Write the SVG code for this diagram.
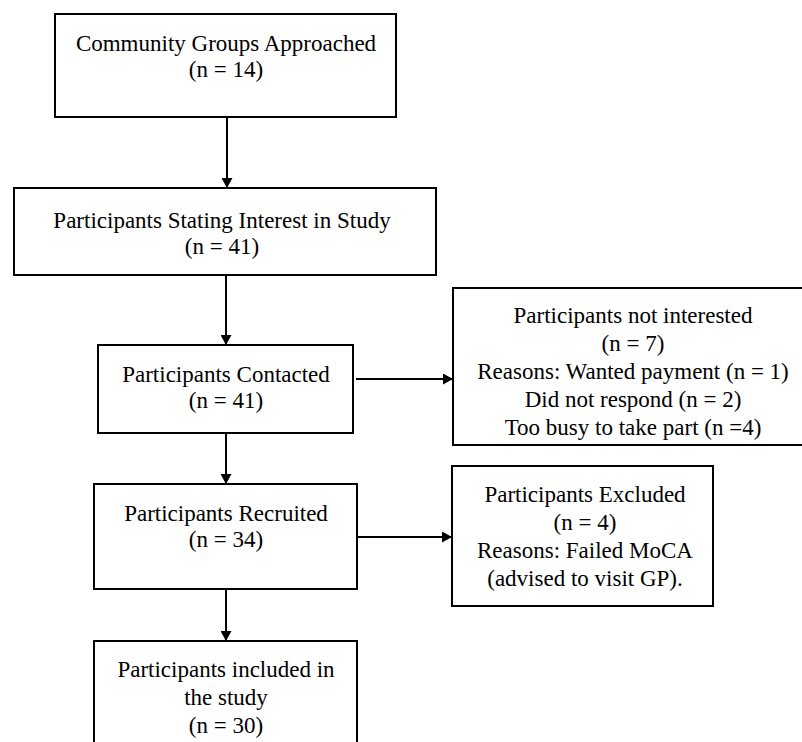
<svg xmlns="http://www.w3.org/2000/svg" width="802" height="742" viewBox="0 0 802 742">
<style>
.box{fill:#fff;stroke:#000;stroke-width:2}
.t{font-family:'Liberation Serif','Times New Roman',serif;font-size:23px;fill:#000;text-anchor:middle}
.c{stroke:#000;stroke-width:2;fill:none;marker-end:url(#ah)}
</style>
<defs>
<marker id="ah" viewBox="0 0 10 10" refX="10" refY="5" markerWidth="5" markerHeight="5.5" markerUnits="strokeWidth" orient="auto" preserveAspectRatio="none">
<path d="M0,0 L10,5 L0,10 z" fill="#000"/>
</marker>
</defs>
<rect width="802" height="742" fill="#fff"/>
<g id="connectors">
<line class="c" x1="227" y1="117" x2="227" y2="188"/>
<line class="c" x1="226" y1="275" x2="226" y2="345"/>
<line class="c" x1="356" y1="379" x2="453" y2="379"/>
<line class="c" x1="226" y1="433" x2="226" y2="484"/>
<line class="c" x1="357" y1="537" x2="452" y2="537"/>
<line class="c" x1="226" y1="589" x2="226" y2="641"/>
</g>
<g id="n1">
<rect class="box" x="55" y="14" width="341" height="103"/>
<text class="t" x="226" y="51">Community Groups Approached</text>
<text class="t" x="226" y="77">(n = 14)</text>
</g>
<g id="n2">
<rect class="box" x="14" y="188" width="422" height="87"/>
<text class="t" x="222" y="228">Participants Stating Interest in Study</text>
<text class="t" x="222" y="254">(n = 41)</text>
</g>
<g id="n3">
<rect class="box" x="98" y="345" width="255" height="88"/>
<text class="t" x="226" y="382">Participants Contacted</text>
<text class="t" x="226" y="408">(n = 41)</text>
</g>
<g id="n4">
<rect class="box" x="453" y="288" width="360" height="157"/>
<text class="t" x="633" y="323">Participants not interested</text>
<text class="t" x="633" y="351">(n = 7)</text>
<text class="t" x="633" y="379">Reasons: Wanted payment (n = 1)</text>
<text class="t" x="633" y="407">Did not respond (n = 2)</text>
<text class="t" x="633" y="435">Too busy to take part (n =4)</text>
</g>
<g id="n5">
<rect class="box" x="94" y="484" width="263" height="105"/>
<text class="t" x="226" y="521">Participants Recruited</text>
<text class="t" x="226" y="547">(n = 34)</text>
</g>
<g id="n6">
<rect class="box" x="452" y="466" width="261" height="140"/>
<text class="t" x="585" y="502">Participants Excluded</text>
<text class="t" x="585" y="530">(n = 4)</text>
<text class="t" x="585" y="558">Reasons: Failed MoCA</text>
<text class="t" x="585" y="586">(advised to visit GP).</text>
</g>
<g id="n7">
<rect class="box" x="94" y="641" width="263" height="120"/>
<text class="t" x="226" y="677">Participants included in</text>
<text class="t" x="226" y="705">the study</text>
<text class="t" x="226" y="733">(n = 30)</text>
</g>
</svg>
